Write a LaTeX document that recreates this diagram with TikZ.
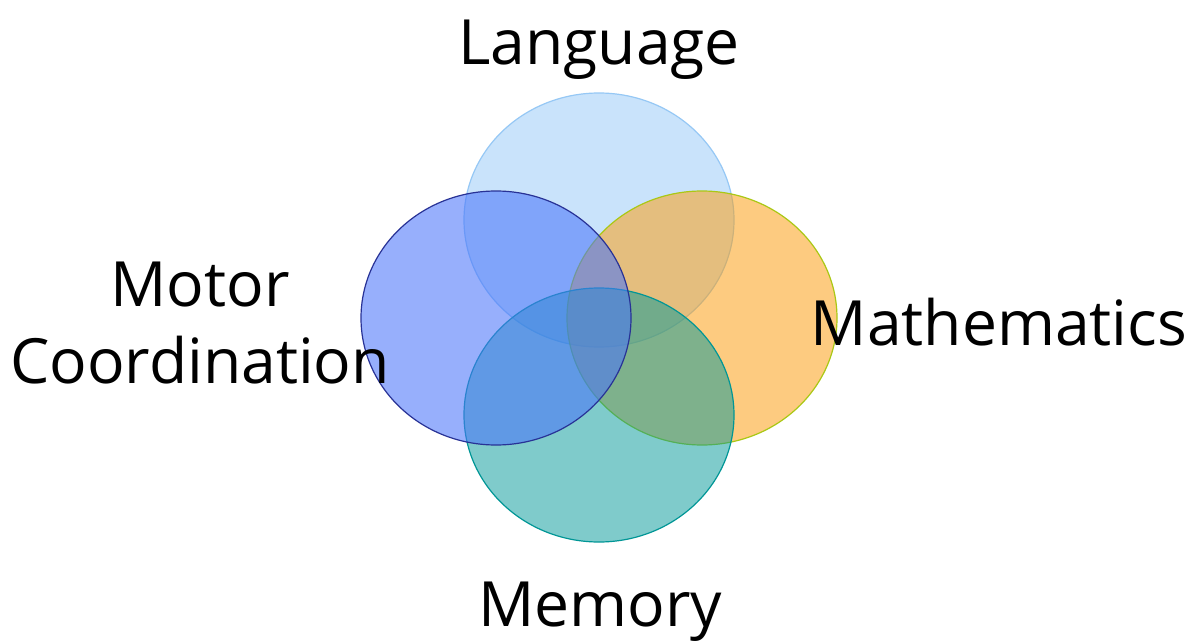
\documentclass[tikz,border=0pt]{standalone}
\usepackage{fontspec}
\setmainfont{Open Sans}
\definecolor{langfill}{RGB}{201,227,251}
\definecolor{langline}{RGB}{150,200,245}
\definecolor{mathfill}{RGB}{253,157,13}
\definecolor{mathline}{RGB}{170,200,20}
\definecolor{memfill}{RGB}{0,153,153}
\definecolor{memline}{RGB}{0,150,150}
\definecolor{motfill}{RGB}{74,117,250}
\definecolor{motline}{RGB}{40,50,150}
\tikzset{
  lbl/.style={anchor=base, inner sep=0pt, font=\fontsize{31.2}{36}\selectfont},
  blob/.style={line width=0.6pt}
}
\begin{document}
\begin{tikzpicture}[x=0.5pt,y=-0.5pt]
\useasboundingbox (0,0) rectangle (1199,642);
\fill[white] (0,0) rectangle (1199,642);
% Language
\draw[blob, fill=langfill, draw=langline] (599,220) ellipse [x radius=67.5pt, y radius=63.5pt];
% Mathematics
\draw[blob, fill=mathfill, fill opacity=0.52, draw=mathline] (702,318) ellipse [x radius=67.5pt, y radius=63.5pt];
% Memory
\draw[blob, fill=memfill, fill opacity=0.5, draw=memline] (599,415) ellipse [x radius=67.5pt, y radius=63.5pt];
% Motor coordination
\draw[blob, fill=motfill, fill opacity=0.574, draw=motline] (496,318) ellipse [x radius=67.5pt, y radius=63.5pt];
% labels
\node[lbl] (language) at (599,65) {Language};
\node[lbl] (motor) at (200,306) {Motor};
\node[lbl] (coord) at (200,383) {Coordination};
\node[lbl] (math) at (999,345) {Mathematics};
\node[lbl] (memory) at (600,626) {Memory};
\end{tikzpicture}
\end{document}
